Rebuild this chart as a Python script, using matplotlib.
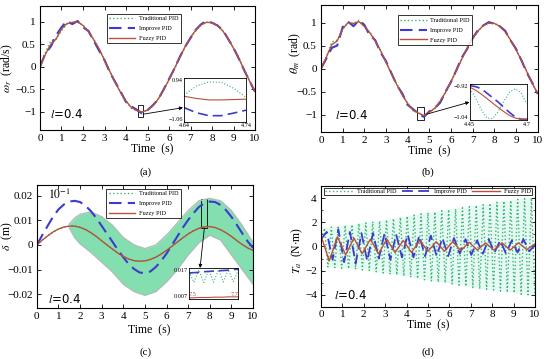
import matplotlib
matplotlib.use("Agg")
import matplotlib.pyplot as plt
import numpy as np
from matplotlib.patches import Rectangle

# ---- data ----
t_main = np.linspace(0, 10, 41)

# (a) omega
omega_trad = [0, 0.32, 0.58, 0.62, 0.80, 0.95, 0.98, 1.00, 0.93, 0.80, 0.62, 0.40, 0.16, -0.10, -0.33,
              -0.56, -0.75, -0.92, -0.97, -1.0, -0.96, -0.87, -0.72, -0.52, -0.29, -0.05, 0.20, 0.44,
              0.64, 0.80, 0.93, 0.99, 0.99, 0.93, 0.80, 0.63, 0.43, 0.20, -0.06, -0.31, -0.54]
omega_impr = [0, 0.30, 0.45, 0.70, 0.88, 1.02, 0.95, 1.02, 0.88, 0.80, 0.58, 0.36, 0.15, -0.12, -0.34,
              -0.55, -0.78, -0.88, -0.95, -1.04, -0.96, -0.85, -0.72, -0.50, -0.27, -0.04, 0.22, 0.45,
              0.64, 0.83, 0.95, 1.02, 0.98, 0.92, 0.82, 0.62, 0.42, 0.18, -0.08, -0.32, -0.55]
omega_fuzzy = [0, 0.28, 0.50, 0.62, 0.84, 0.96, 0.99, 1.0, 0.92, 0.78, 0.60, 0.40, 0.15, -0.10, -0.35,
               -0.57, -0.76, -0.90, -0.97, -1.0, -0.96, -0.86, -0.71, -0.51, -0.28, -0.04, 0.21, 0.45,
               0.66, 0.82, 0.94, 0.99, 0.98, 0.92, 0.80, 0.62, 0.41, 0.18, -0.07, -0.32, -0.54]
ins_a_t = [4.64, 4.66, 4.68, 4.70, 4.72, 4.74]
ins_a_trad = [-0.987, -0.962, -0.951, -0.952, -0.968, -0.993]
ins_a_impr = [-1.021, -1.035, -1.043, -1.043, -1.036, -1.028]
ins_a_fuzzy = [-0.990, -0.996, -1.000, -1.000, -0.999, -0.998]

# (b) theta
theta_trad = [0, 0.25, 0.58, 0.62, 0.85, 1.0, 0.97, 1.05, 0.90, 0.80, 0.60, 0.38, 0.14, -0.12, -0.33,
              -0.58, -0.75, -0.92, -0.95, -1.03, -0.95, -0.88, -0.70, -0.53, -0.27, -0.05, 0.22, 0.44,
              0.66, 0.80, 0.95, 0.98, 0.99, 0.91, 0.80, 0.61, 0.42, 0.17, -0.06, -0.33, -0.54]
theta_impr = [0, 0.22, 0.45, 0.50, 0.90, 1.02, 0.92, 1.05, 0.95, 0.72, 0.62, 0.35, 0.16, -0.10, -0.36,
              -0.54, -0.79, -0.88, -0.98, -1.05, -0.93, -0.86, -0.74, -0.50, -0.29, -0.03, 0.24, 0.43,
              0.66, 0.84, 0.94, 1.01, 0.97, 0.92, 0.82, 0.61, 0.43, 0.18, -0.09, -0.31, -0.55]
theta_fuzzy = [0, 0.25, 0.52, 0.60, 0.86, 1.00, 0.98, 1.02, 0.92, 0.78, 0.60, 0.39, 0.14, -0.11, -0.35,
               -0.57, -0.76, -0.90, -0.97, -1.02, -0.95, -0.86, -0.71, -0.51, -0.28, -0.04, 0.21, 0.45,
               0.66, 0.82, 0.94, 0.99, 0.98, 0.92, 0.80, 0.62, 0.41, 0.18, -0.07, -0.32, -0.54]
ins_b_t = [4.45, 4.475, 4.5, 4.525, 4.55, 4.575, 4.6, 4.625, 4.65, 4.675, 4.7]
ins_b_trad = [-0.935, -0.965, -1.005, -1.033, -1.035, -1.010, -0.975, -0.945, -0.935, -0.950, -0.985]
ins_b_impr = [-0.925, -0.928, -0.935, -0.950, -0.965, -0.980, -0.998, -1.015, -1.030, -1.037, -1.037]
ins_b_fuzzy = [-0.930, -0.940, -0.953, -0.968, -0.983, -0.998, -1.012, -1.025, -1.033, -1.037, -1.037]

# (c) delta
delta_impr = [0, 0.004, 0.0078, 0.0115, 0.0145, 0.0165, 0.0177, 0.018, 0.0175, 0.016, 0.0138, 0.011,
              0.0078, 0.0045, 0.0013, -0.002, -0.005, -0.0078, -0.0098, -0.0112, -0.0115, -0.0108,
              -0.009, -0.0065, -0.0035, 0, 0.0035, 0.007, 0.0102, 0.013, 0.0155, 0.017, 0.0177,
              0.0175, 0.0163, 0.0142, 0.0115, 0.0082, 0.0048, 0.0015, -0.0012]
delta_fuzzy = [0, 0.002, 0.0037, 0.0053, 0.0065, 0.0073, 0.0077, 0.0077, 0.0072, 0.0063, 0.005, 0.0035,
               0.0017, 0, -0.0017, -0.0033, -0.0047, -0.0057, -0.0064, -0.0066, -0.0065, -0.0059,
               -0.005, -0.0037, -0.0022, -0.0005, 0.0012, 0.0029, 0.0045, 0.0058, 0.0068, 0.0074,
               0.0075, 0.0071, 0.0062, 0.005, 0.0035, 0.0018, 0.0002, -0.0012, -0.0022]
band_t = [1.5, 1.75, 2.0, 2.5, 3.0, 3.5, 4.0, 4.5, 5.0, 5.5, 6.0, 6.5, 7.0, 7.5, 8.0, 8.5, 9.0, 9.5, 10.0]
band_upper = [0.0085, 0.011, 0.0125, 0.0135, 0.0115, 0.008, 0.003, 0.0, -0.0015, 0.0, 0.004, 0.009,
              0.014, 0.018, 0.019, 0.018, 0.014, 0.008, 0.001]
band_lower = [0.007, 0.003, 0.0005, -0.003, -0.007, -0.011, -0.016, -0.019, -0.0205, -0.019, -0.015,
              -0.010, -0.004, 0.001, 0.004, 0.002, -0.004, -0.010, -0.016]
ins_c_t = [7.5, 7.52, 7.54, 7.56, 7.58, 7.60, 7.62, 7.64, 7.66, 7.68, 7.70]
ins_c_trad = [0.0158, 0.0124, 0.0164, 0.0123, 0.0163, 0.0124, 0.0164, 0.0125, 0.0165, 0.0126, 0.0162]
ins_c_impr = [0.0154, 0.0155, 0.0156, 0.0158, 0.0159, 0.0160, 0.0161, 0.0162, 0.0163, 0.0165, 0.0166]
ins_c_fuzzy = [0.0074, 0.0074, 0.0075, 0.0075, 0.0075, 0.0076, 0.0076, 0.0076, 0.0077, 0.0077, 0.0077]

# (d) torque, values at successive extremes
torque_trad = [0.4, 1.5, -1.7, 1.6, -1.75, 1.7, -1.8, 1.75, -1.85, 1.8, -1.9, 1.9, -1.95, 1.95, -2.0,
               2.05, -2.1, 2.1, -2.2, 2.2, -2.3, 2.3, -2.35, 2.4, -2.45, 2.5, -2.55, 2.6, -2.65, 2.7,
               -2.75, 2.8, -2.85, 2.85, -2.95, 2.95, -3.0, 3.05, -3.1, 3.1, -3.2, 3.2, -3.3, 3.3, -3.4,
               3.4, -3.5, 3.45, -3.55, 3.55, -3.6, 3.65, -3.7, 3.75, -3.8, 3.8, -3.85, 3.9, -3.95,
               3.95, -4.0, 4.0, -4.05]
torque_impr = [0.6, 1.2, -1.1, 1.4, -1.3, 1.2, -1.4, 1.1, -1.2, 1.1, -1.0, 1.1, -1.1, 1.0, -0.9, 1.0,
               -0.9, 0.9, -0.8, 0.9, -0.8, 0.7, -0.8, 0.7, -0.6, 0.6, -0.7, 0.5, -0.6, 0.6, -0.5, 0.5,
               -0.6, 0.5, -0.5, 0.6, -0.4, 0.1]
torque_fuzzy = [0.9, -1.2, 0.8, -0.7, 0.7, -0.6, 0.6, -0.6, 0.6, -0.5, 0.5, -0.5, 0.5, -0.4, 0.4, -0.4,
                0.4, -0.35, 0.35, -0.3, 0.3, -0.3, 0.3, -0.3, 0.3, -0.25, 0.2]

labels = ["Traditional PID", "Improve PID", "Fuzzy PID"]

# ---- styles ----
C_TRAD = "#3cb371"
C_IMPR = "#3b3bd0"
C_FUZZ = "#b8503a"
SERIF = "Liberation Serif"
TICK_FS = 8
LABEL_FS = 8.5

plt.rcParams["font.family"] = SERIF
plt.rcParams["mathtext.fontset"] = "stix"
plt.rcParams["axes.linewidth"] = 0.8


def style_lines(ax, t, trad, impr, fuzzy, lw_scale=1.0):
    ax.plot(t, trad, color=C_TRAD, ls=":", lw=1.0 * lw_scale, label=labels[0])
    ax.plot(t, impr, color=C_IMPR, ls=(0, (6, 3)), lw=1.5 * lw_scale, label=labels[1])
    ax.plot(t, fuzzy, color=C_FUZZ, ls="-", lw=1.0 * lw_scale, label=labels[2])


def style_axes(ax, yticks, yticklabels, ylim):
    ax.set_xlim(0, 10)
    ax.set_ylim(*ylim)
    ax.set_xticks(range(11))
    ax.set_yticks(yticks)
    ax.set_yticklabels(yticklabels)
    ax.tick_params(direction="in", top=True, right=True, length=3, width=0.6,
                   labelsize=TICK_FS, pad=3)
    ax.set_xlabel("Time  (s)", fontsize=LABEL_FS, labelpad=0)


def style_inset(ins, xlim, ylim, xlabels, ylabels):
    ins.set_xlim(*xlim)
    ins.set_ylim(*ylim)
    ins.set_xticks(xlim)
    ins.set_xticklabels(xlabels)
    ins.set_yticks(ylim)
    ins.set_yticklabels(ylabels)
    ins.tick_params(direction="in", length=1.5, width=0.4, labelsize=4.5, pad=1)
    lo, hi = ins.get_yticklabels()
    lo.set_va("bottom")
    hi.set_va("top")
    for s in ins.spines.values():
        s.set_linewidth(0.6)


def legend(ax, loc, **kw):
    leg = ax.legend(loc=loc, fontsize=4.5, frameon=True, fancybox=False, edgecolor="black",
                    handlelength=4.2, handletextpad=0.6, borderpad=0.4, labelspacing=0.7,
                    borderaxespad=0, **kw)
    leg.get_frame().set_linewidth(0.7)
    return leg


def l_text(ax, x, y):
    ax.text(x, y, r"$\mathit{l}$=0.4", transform=ax.transAxes, fontsize=8.5,
            family="DejaVu Sans", va="bottom", ha="left")


fig = plt.figure(figsize=(5.5, 3.59), dpi=100)

# ---- (a) ----
ax_a = fig.add_axes([0.0727, 0.638, 0.391, 0.345])
style_lines(ax_a, t_main, omega_trad, omega_impr, omega_fuzzy)
style_axes(ax_a, [-1, -0.5, 0, 0.5, 1], ["\u22121", "\u22120.5", "0", "0.5", "1"], (-1.4, 1.35))
ax_a.set_ylabel(r"$\omega_r$  (rad/s)", fontsize=LABEL_FS)
ax_a.yaxis.set_label_coords(-0.115, 0.5)
ax_a.xaxis.set_label_coords(0.52, -0.11)
legend(ax_a, "upper left", bbox_to_anchor=(0.31, 0.94))
l_text(ax_a, 0.045, 0.07)
ax_a.add_patch(Rectangle((4.56, -1.11), 0.23, 0.26, fill=False, ec="black", lw=0.6))
ins_a = ax_a.inset_axes([0.67, 0.065, 0.288, 0.355])
style_lines(ins_a, ins_a_t, ins_a_trad, ins_a_impr, ins_a_fuzzy, 0.8)
style_inset(ins_a, (4.64, 4.74), (-1.06, -0.94), ["4.64", "4.74"], ["\u22121.06", "0.94"])
ax_a.annotate("", xy=(0.665, 0.18), xycoords="axes fraction", xytext=(4.8, -1.05),
              textcoords="data", arrowprops=dict(arrowstyle="-|>", lw=0.6, color="black",
                                                 mutation_scale=5, shrinkA=0, shrinkB=0))
fig.text(0.265, 0.52, "(a)", fontsize=8, ha="center", va="center")

# ---- (b) ----
ax_b = fig.add_axes([0.5836, 0.632, 0.394, 0.354])
style_lines(ax_b, t_main, theta_trad, theta_impr, theta_fuzzy)
style_axes(ax_b, [-1, -0.5, 0, 0.5, 1], ["\u22121", "\u22120.5", "0", "0.5", "1"], (-1.38, 1.38))
ax_b.set_ylabel(r"$\theta_m$  (rad)", fontsize=LABEL_FS)
ax_b.yaxis.set_label_coords(-0.085, 0.62)
ax_b.xaxis.set_label_coords(0.5, -0.1)
legend(ax_b, "upper left", bbox_to_anchor=(0.355, 0.92))
l_text(ax_b, 0.065, 0.08)
ax_b.add_patch(Rectangle((4.42, -1.12), 0.33, 0.28, fill=False, ec="black", lw=0.6))
ins_b = ax_b.inset_axes([0.687, 0.094, 0.263, 0.283])
style_lines(ins_b, ins_b_t, ins_b_trad, ins_b_impr, ins_b_fuzzy, 0.8)
style_inset(ins_b, (4.45, 4.7), (-1.04, -0.92), ["4.45", "4.7"], ["\u22121.04", "\u22120.92"])
ax_b.annotate("", xy=(0.685, 0.236), xycoords="axes fraction", xytext=(4.88, -0.99),
              textcoords="data", arrowprops=dict(arrowstyle="-|>", lw=0.6, color="black",
                                                 mutation_scale=5, shrinkA=0, shrinkB=0))
fig.text(0.778, 0.52, "(b)", fontsize=8, ha="center", va="center")

# ---- (c) ----
ax_c = fig.add_axes([0.067, 0.142, 0.393, 0.343])
ax_c.fill_between(band_t, band_lower, band_upper, color="#84dfb0", lw=0)
ax_c.plot(band_t, band_upper, color="#aebfb4", lw=1.0)
ax_c.plot(band_t, band_lower, color="#aebfb4", lw=1.0)
style_lines(ax_c, t_main, delta_fuzzy, delta_impr, delta_fuzzy)
style_axes(ax_c, [-0.02, -0.01, 0, 0.01, 0.02],
           ["\u22120.02", "\u22120.01", "0", "0.01", "0.02"], (-0.0257, 0.0245))
ax_c.set_ylabel(r"$\delta$  (m)", fontsize=LABEL_FS)
ax_c.yaxis.set_label_coords(-0.1, 0.58)
ax_c.xaxis.set_label_coords(0.52, -0.13)
legend(ax_c, "upper left", bbox_to_anchor=(0.32, 0.97))
l_text(ax_c, 0.05, 0.02)
ax_c.text(0.05, 0.92, r"$10^{-1}$", transform=ax_c.transAxes, fontsize=8.5, va="center")
ax_c.add_patch(Rectangle((7.6, 0.0069), 0.27, 0.0119, fill=False, ec="black", lw=0.6))
ins_c = ax_c.inset_axes([0.704, 0.073, 0.227, 0.252])
style_lines(ins_c, ins_c_t, ins_c_trad, ins_c_impr, ins_c_fuzzy, 0.8)
style_inset(ins_c, (7.5, 7.7), (0.007, 0.017), ["7.5", "7.7"], ["0.007", "0.017"])
ins_c.tick_params(axis="x", pad=-5, labelcolor="#c04040")
xl_lo, xl_hi = ins_c.get_xticklabels()
xl_lo.set_ha("left")
xl_hi.set_ha("right")
ax_c.annotate("", xy=(0.755, 0.325), xycoords="axes fraction", xytext=(7.75, 0.0069),
              textcoords="data", arrowprops=dict(arrowstyle="-|>", lw=0.6, color="black",
                                                 mutation_scale=5, shrinkA=0, shrinkB=0))
fig.text(0.265, 0.02, "(c)", fontsize=8, ha="center", va="center")

# ---- (d) ----
ax_d = fig.add_axes([0.5836, 0.145, 0.389, 0.337])
t_trad = np.linspace(0, 10, len(torque_trad))
t_impr = np.linspace(0, 10, len(torque_impr))
t_fuzz = np.linspace(0, 10, len(torque_fuzzy))
env_hi_t, env_hi = t_trad[1::2], np.array(torque_trad[1::2])
env_lo_t, env_lo = t_trad[2::2], np.array(torque_trad[2::2])
ax_d.fill(np.r_[env_hi_t, env_lo_t[::-1]], np.r_[env_hi, env_lo[::-1]], color="#e6faf4", lw=0)
ax_d.plot(t_trad, torque_trad, color=C_TRAD, ls=":", lw=1.0, label=labels[0])
ax_d.plot(t_impr, torque_impr, color=C_IMPR, ls=(0, (6, 3)), lw=1.3, label=labels[1])
ax_d.plot(t_fuzz, torque_fuzzy, color=C_FUZZ, ls="-", lw=1.0, label=labels[2])
style_axes(ax_d, [-4, -2, 0, 2, 4], ["\u22124", "\u22122", "0", "2", "4"], (-5.0, 5.0))
ax_d.set_yticks(np.arange(-5, 5.1, 1), minor=True)
ax_d.tick_params(which="minor", direction="in", right=True, length=1.5, width=0.5)
ax_d.tick_params(axis="x", pad=2)
ax_d.set_ylabel(r"$T_a$  (N$\cdot$m)", fontsize=LABEL_FS)
ax_d.yaxis.set_label_coords(-0.075, 0.47)
ax_d.xaxis.set_label_coords(0.5, -0.1)
leg = ax_d.legend(loc="upper center", bbox_to_anchor=(0.5, 0.985), ncol=3, fontsize=4.5,
                  fancybox=False, edgecolor="black", handlelength=4.5, handletextpad=0.6,
                  borderpad=0.15, columnspacing=0.9, borderaxespad=0)
leg.get_frame().set_linewidth(0.7)
l_text(ax_d, 0.06, 0.04)
fig.text(0.778, 0.02, "(d)", fontsize=8, ha="center", va="center")

fig.savefig("out.png", dpi=100)
